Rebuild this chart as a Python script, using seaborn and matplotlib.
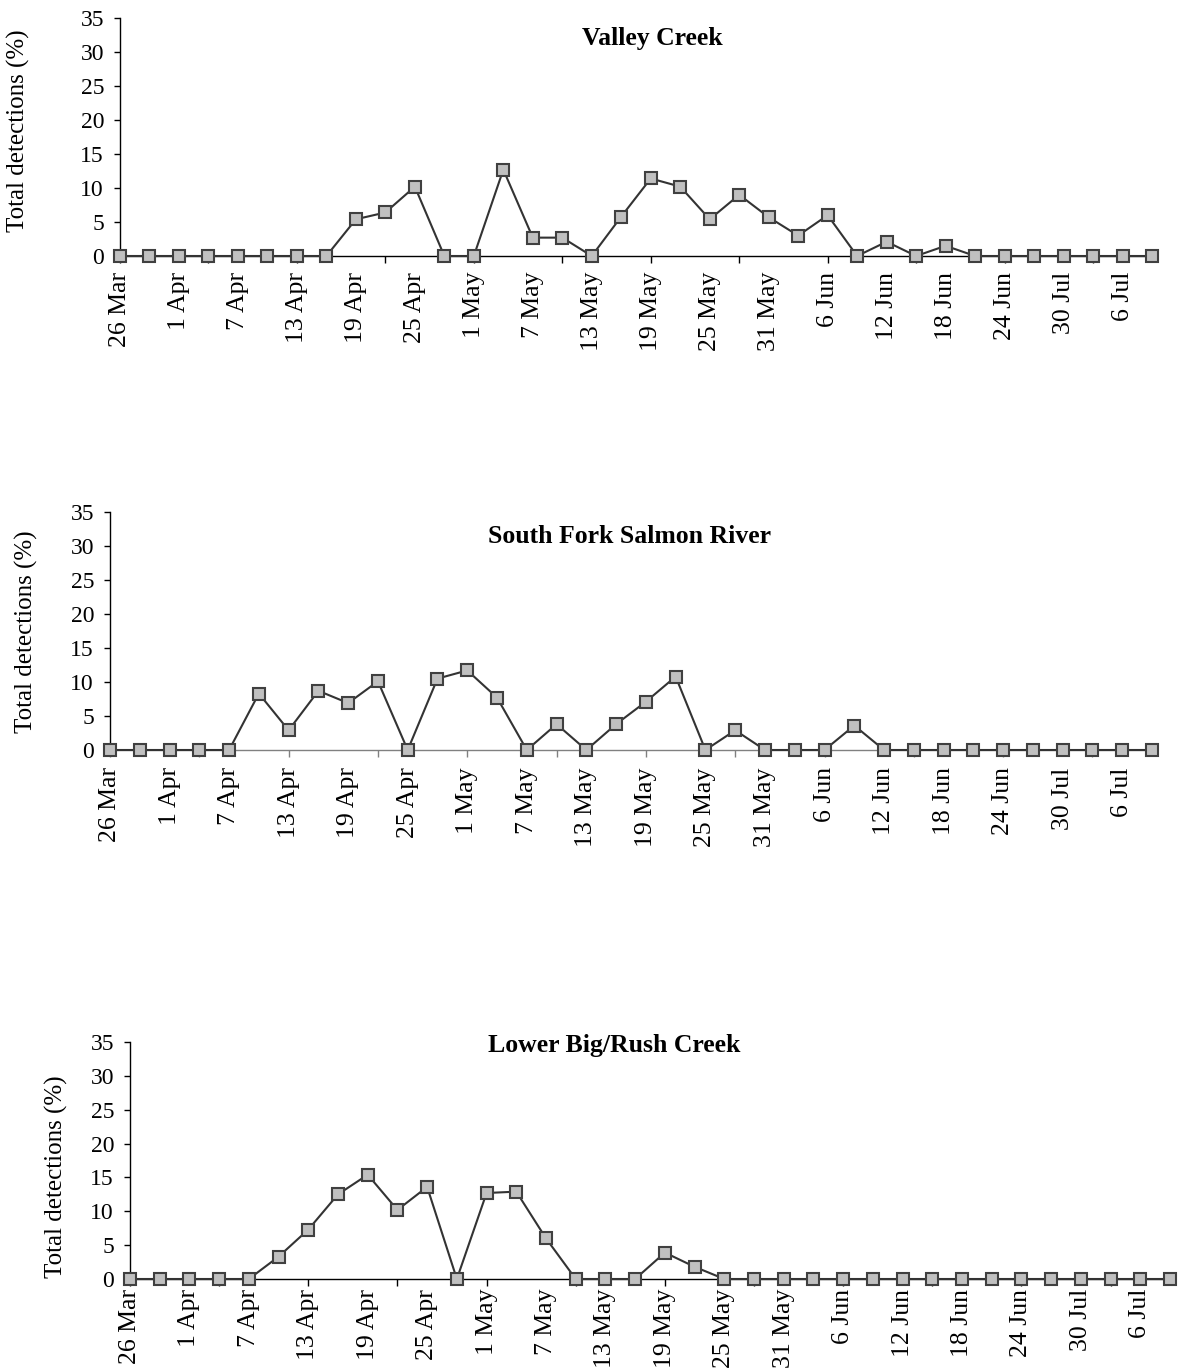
import numpy as np
import pandas as pd
import matplotlib
matplotlib.use("Agg")
import matplotlib.pyplot as plt
import seaborn as sns

# ---- data ----
tick_labels = ["26 Mar", "1 Apr", "7 Apr", "13 Apr", "19 Apr", "25 Apr",
               "1 May", "7 May", "13 May", "19 May", "25 May", "31 May",
               "6 Jun", "12 Jun", "18 Jun", "24 Jun", "30 Jul", "6 Jul"]
titles = ["Valley Creek", "South Fork Salmon River", "Lower Big/Rush Creek"]

valley_creek = [0, 0, 0, 0, 0, 0, 0, 0, 5.4, 6.4, 10.2, 0, 0, 12.7, 2.7, 2.7,
                0, 5.8, 11.4, 10.2, 5.4, 9.0, 5.7, 3.0, 6.0, 0, 2.1, 0, 1.5,
                0, 0, 0, 0, 0, 0, 0]
south_fork = [0, 0, 0, 0, 0, 8.3, 2.9, 8.7, 6.9, 10.1, 0, 10.5, 11.7, 7.7,
              0, 3.8, 0, 3.8, 7.1, 10.8, 0, 2.9, 0, 0, 0, 3.6,
              0, 0, 0, 0, 0, 0, 0, 0, 0, 0]
lower_big_rush = [0, 0, 0, 0, 0, 3.3, 7.3, 12.5, 15.4, 10.2, 13.6, 0, 12.7,
                  12.9, 6.0, 0, 0, 0, 3.9, 1.8, 0, 0, 0, 0, 0, 0,
                  0, 0, 0, 0, 0, 0, 0, 0, 0, 0]
y_ticks = [0, 5, 10, 15, 20, 25, 30, 35]
y_label = "Total detections (%)"

series = [valley_creek, south_fork, lower_big_rush]

# ---- style ----
sns.set_theme(style="ticks")
plt.rcParams['font.family'] = ['Liberation Serif', 'DejaVu Serif']
plt.rcParams['text.color'] = 'black'
plt.rcParams['axes.labelcolor'] = 'black'

W, H = 1180, 1371
fig = plt.figure(figsize=(W / 100, H / 100), dpi=100)

# axes rectangles in pixels: left, right, y_zero, y_top
rects_px = [(120, 1152, 256, 18), (110, 1152, 750, 512), (130, 1170, 1279, 1042)]
title_pos = [(0.5155, 0.887), (0.499, 0.870), (0.466, 0.958)]
ylabel_pos = [(-0.087, 0.525), (-0.069, 0.496), (-0.06, 0.43)]
xpad = [11.5, 12.5, 7.0]
bottom_colors = ['#000000', '#808080', '#000000']

for i, vals in enumerate(series):
    l, r, y0, yt = rects_px[i]
    ax = fig.add_axes([l / W, (H - y0) / H, (r - l) / W, (y0 - yt) / H])
    df = pd.DataFrame({"period": np.arange(len(vals)), "pct": vals})
    sns.lineplot(data=df, x="period", y="pct", ax=ax, color="#333333",
                 linewidth=1.5, marker="s", markersize=8.8,
                 markerfacecolor="#c0c0c0", markeredgecolor="#404040",
                 markeredgewidth=1.5)
    for ln in ax.lines:
        ln.set_clip_on(False)
        ln.set_zorder(3)
    ax.set_xlim(0, len(vals) - 1)
    ax.set_ylim(0, 35)
    ax.set_yticks(y_ticks)
    ax.xaxis.remove_overlapping_locs = False
    # labelled positions (every 2nd period) as major ticks without marks
    ax.set_xticks(np.arange(0, len(vals), 2), labels=tick_labels)
    # tick marks every 3rd period as minor ticks
    ax.set_xticks(np.arange(0, len(vals), 3), minor=True)
    ax.tick_params(axis="x", which="minor", length=5, width=1, direction="out",
                   color=bottom_colors[i])
    ax.tick_params(axis="x", which="major", length=0, pad=xpad[i],
                   labelsize=18.5, labelrotation=90, labelcolor="black")
    ax.tick_params(axis="y", which="major", length=4.5, width=1, direction="out",
                   labelsize=17, pad=7, labelcolor="black", color="black")
    for sp in ["top", "right"]:
        ax.spines[sp].set_visible(False)
    ax.spines["left"].set_color("black")
    ax.spines["left"].set_linewidth(1.0)
    ax.spines["bottom"].set_color(bottom_colors[i])
    ax.spines["bottom"].set_linewidth(1.0)
    ax.set_xlabel("")
    ax.set_ylabel(y_label, fontsize=18, color="black")
    ax.yaxis.set_label_coords(*ylabel_pos[i])
    ax.text(title_pos[i][0], title_pos[i][1], titles[i], transform=ax.transAxes,
            ha="center", va="baseline", fontsize=18.5, fontweight="bold",
            color="black")
    ax.set_facecolor("white")

fig.savefig("out.png", dpi=100, facecolor="white")
